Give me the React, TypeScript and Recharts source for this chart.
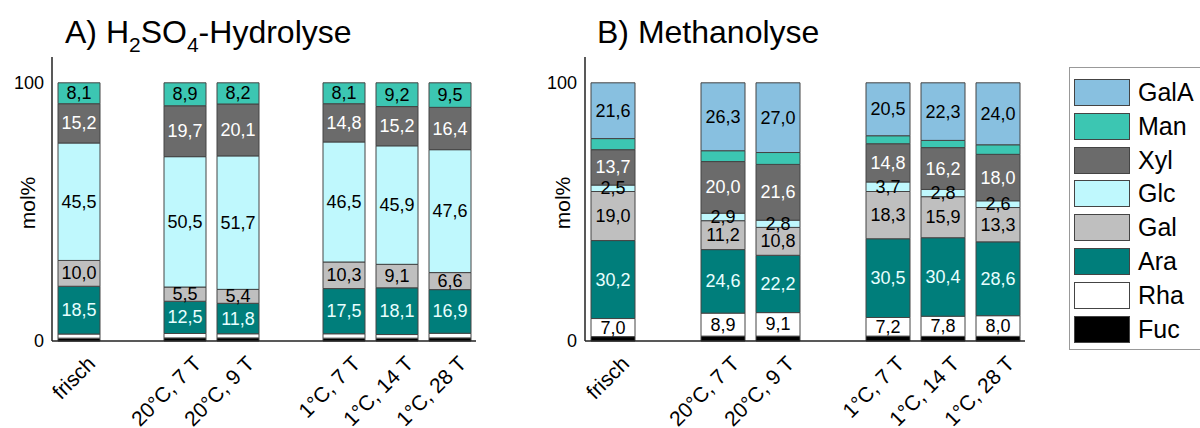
import { BarChart, Bar, XAxis, YAxis, LabelList } from "recharts";

const categories = ["frisch", "", "20°C, 7 T", "20°C, 9 T", "", "1°C, 7 T", "1°C, 14 T", "1°C, 28 T"];

// A) H2SO4-Hydrolyse, mol%
const aFuc = [1.1, null, 1.2, 1.2, null, 1.1, 1.1, 1.2];
const aRha = [1.6, null, 1.7, 1.6, null, 1.7, 1.4, 1.8];
const aAra = [18.5, null, 12.5, 11.8, null, 17.5, 18.1, 16.9];
const aGal = [10.0, null, 5.5, 5.4, null, 10.3, 9.1, 6.6];
const aGlc = [45.5, null, 50.5, 51.7, null, 46.5, 45.9, 47.6];
const aXyl = [15.2, null, 19.7, 20.1, null, 14.8, 15.2, 16.4];
const aMan = [8.1, null, 8.9, 8.2, null, 8.1, 9.2, 9.5];

// B) Methanolyse, mol%
const bFuc = [1.7, null, 1.9, 1.9, null, 1.9, 1.8, 1.8];
const bRha = [7.0, null, 8.9, 9.1, null, 7.2, 7.8, 8.0];
const bAra = [30.2, null, 24.6, 22.2, null, 30.5, 30.4, 28.6];
const bGal = [19.0, null, 11.2, 10.8, null, 18.3, 15.9, 13.3];
const bGlc = [2.5, null, 2.9, 2.8, null, 3.7, 2.8, 2.6];
const bXyl = [13.7, null, 20.0, 21.6, null, 14.8, 16.2, 18.0];
const bMan = [4.3, null, 4.2, 4.6, null, 3.1, 2.8, 3.7];
const bGalA = [21.6, null, 26.3, 27.0, null, 20.5, 22.3, 24.0];

const yTicks = [0, 100];

const colors: Record<string, string> = {
  GalA: "#88c0e0",
  Man: "#3cc6b2",
  Xyl: "#6b6b6b",
  Glc: "#bff8fd",
  Gal: "#bfbfbf",
  Ara: "#007e7b",
  Rha: "#ffffff",
  Fuc: "#000000",
};
const legendOrder = ["GalA", "Man", "Xyl", "Glc", "Gal", "Ara", "Rha", "Fuc"];

const dataA = categories.map((name, i) => ({
  name,
  Fuc: aFuc[i],
  Rha: aRha[i],
  Ara: aAra[i],
  Gal: aGal[i],
  Glc: aGlc[i],
  Xyl: aXyl[i],
  Man: aMan[i],
}));

const dataB = categories.map((name, i) => ({
  name,
  Fuc: bFuc[i],
  Rha: bRha[i],
  Ara: bAra[i],
  Gal: bGal[i],
  Glc: bGlc[i],
  Xyl: bXyl[i],
  Man: bMan[i],
  GalA: bGalA[i],
}));

// [key, label colour or null]
const seriesA: [string, string | null][] = [
  ["Fuc", null],
  ["Rha", null],
  ["Ara", "#e8ffff"],
  ["Gal", "#000"],
  ["Glc", "#000"],
  ["Xyl", "#fff"],
  ["Man", "#000"],
];
const seriesB: [string, string | null][] = [
  ["Fuc", null],
  ["Rha", "#000"],
  ["Ara", "#e8ffff"],
  ["Gal", "#000"],
  ["Glc", "#000"],
  ["Xyl", "#fff"],
  ["Man", null],
  ["GalA", "#000"],
];

const fmt = (v: number) => v.toFixed(1).replace(".", ",");

const segLabel = (color: string) => (p: any) => {
  if (p.value == null) return null;
  return (
    <text
      x={p.x + p.width / 2}
      y={p.y + p.height / 2}
      textAnchor="middle"
      dominantBaseline="central"
      fontSize={18}
      fill={color}
    >
      {fmt(p.value)}
    </text>
  );
};

const XTick = (props: any) => {
  const { x, y, payload } = props;
  if (!payload.value) return null;
  const px = x + 18;
  const py = y + 16;
  return (
    <text x={px} y={py} transform={`rotate(-45 ${px} ${py})`} textAnchor="end" fontSize={21} fill="#000">
      {payload.value}
    </text>
  );
};

function Panel({ data, series, width, axisW, right, barSize }: any) {
  return (
    <BarChart width={width} height={428} data={data} margin={{ top: 57, right, bottom: 57, left: 0 }}>
      <XAxis
        dataKey="name"
        height={30}
        interval={0}
        tickLine={false}
        axisLine={{ stroke: "#222", strokeWidth: 1.5 }}
        tick={<XTick />}
      />
      <YAxis
        width={axisW}
        domain={[0, 110]}
        ticks={yTicks}
        tickLine={false}
        axisLine={{ stroke: "#222", strokeWidth: 1.5 }}
        tick={{ fontSize: 18, fill: "#000" }}
      />
      {series.map(([key, lc]: [string, string | null]) => (
        <Bar
          key={key}
          dataKey={key}
          stackId="s"
          fill={colors[key]}
          stroke="#444"
          strokeWidth={1}
          barSize={barSize}
          isAnimationActive={false}
        >
          {lc && <LabelList dataKey={key} content={segLabel(lc)} />}
        </Bar>
      ))}
    </BarChart>
  );
}

export default function App() {
  return (
    <div style={{ position: "relative", width: 1200, height: 428, overflow: "hidden", fontFamily: "'Liberation Sans', Arial, sans-serif", background: "#fff" }}>
      <style>{"body{margin:0}"}</style>
      <div style={{ position: "absolute", left: 0, top: 0 }}>
        <Panel data={dataA} series={seriesA} width={540} axisW={52} right={64} barSize={42} />
      </div>
      <div style={{ position: "absolute", left: 540, top: 0 }}>
        <Panel data={dataB} series={seriesB} width={520} axisW={45} right={35} barSize={44} />
      </div>
      <svg width={1200} height={428} style={{ position: "absolute", left: 0, top: 0, pointerEvents: "none" }}>
        <text x={65} y={43} fontSize={32} fill="#000">
          A) H<tspan fontSize={21} dy={9}>2</tspan>
          <tspan dy={-9}>SO</tspan>
          <tspan fontSize={21} dy={9}>4</tspan>
          <tspan dy={-9}>-Hydrolyse</tspan>
        </text>
        <text x={597} y={43} fontSize={32} fill="#000">
          B) Methanolyse
        </text>
        <text x={27} y={203} fontSize={21} fill="#000" textAnchor="middle" dominantBaseline="central" transform="rotate(-90 27 203)">
          mol%
        </text>
        <text x={562} y={203} fontSize={21} fill="#000" textAnchor="middle" dominantBaseline="central" transform="rotate(-90 562 203)">
          mol%
        </text>
      </svg>
      <div style={{ position: "absolute", left: 1069, top: 67, width: 150, height: 283, border: "1px solid #999", boxSizing: "border-box" }}>
        {legendOrder.map((k, i) => (
          <div key={k} style={{ position: "absolute", left: 4, top: 11 + i * 33.8, display: "flex", alignItems: "center" }}>
            <div style={{ width: 56, height: 27, background: colors[k], border: "1px solid #444", boxSizing: "border-box" }} />
            <span style={{ marginLeft: 8, fontSize: 25, lineHeight: "27px", color: "#000" }}>{k}</span>
          </div>
        ))}
      </div>
    </div>
  );
}
